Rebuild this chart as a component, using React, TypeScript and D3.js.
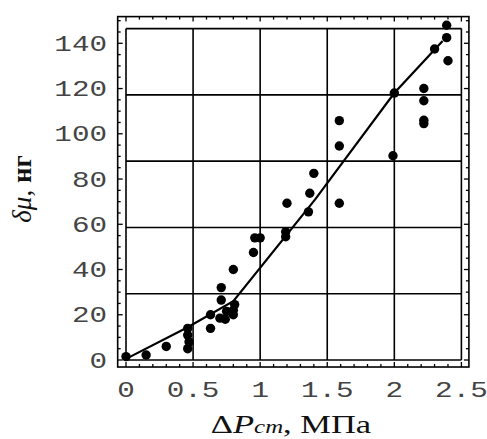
import React from "react";
import * as d3 from "d3";

// measured points: pressure drop (MPa) vs mass change (ng)
const pressure = [0, 0.15, 0.3, 0.46, 0.46, 0.47, 0.46, 0.63, 0.63, 0.7, 0.74, 0.75, 0.8, 0.8, 0.81, 0.71, 0.71, 0.8, 0.95, 0.96, 1.0, 1.19, 1.19, 1.2, 1.36, 1.37, 1.4, 1.59, 1.59, 1.59, 1.99, 2.0, 2.22, 2.22, 2.22, 2.22, 2.3, 2.39, 2.39, 2.4];
const mass = [1.5, 2.2, 6, 14, 11, 8, 5, 14, 20, 18.5, 18, 21.5, 22, 20, 24.5, 26.5, 32, 40, 47.5, 54, 54, 56.7, 54.5, 69.3, 65.5, 73.7, 82.5, 69.3, 94.6, 105.8, 90.3, 118, 120, 114.6, 106, 104.5, 137.5, 148, 142.5, 132.3];

// fitted curve
const fitX = [0, 0.46, 0.8, 1.41, 2.0, 2.36];
const fitY = [0.5, 14.5, 26, 71, 118, 141];

const xTicks = [0, 0.5, 1, 1.5, 2, 2.5];
const xTickLabels = ["0", "0.5", "1", "1.5", "2", "2.5"];
const yTicks = [0, 20, 40, 60, 80, 100, 120, 140];
const yGrid = [0, 29.3, 58.6, 87.9, 117.2, 146.5];
const xFrame = [-0.062, 2.556];
const yFrame = [-3.1, 151.8];

const W = 487, H = 439;

export default function App() {
  const x = d3.scaleLinear().domain([0, 2.5]).range([126, 461.4]);
  const y = d3.scaleLinear().domain([0, 140]).range([360, 43.3]);

  const fx0 = x(xFrame[0]), fx1 = x(xFrame[1]);
  const fy0 = y(yFrame[0]), fy1 = y(yFrame[1]);

  const xMinor = d3.range(0, 2.51, 0.1);
  const yMinor = d3.range(0, 151, 5);

  const line = d3.line<number>().x((d, i) => x(fitX[i])).y((d, i) => y(fitY[i]));
  const pts = pressure.map((p, i) => [p, mass[i]]);

  const tickFont = { fontFamily: "Liberation Mono, monospace", fontSize: 22 };
  const sx = 1.33;

  return (
    <svg width={W} height={H} style={{ position: "absolute", left: 0, top: 0, background: "#fff" }}>
      <rect x={0} y={0} width={W} height={H} fill="#fff" />
      {/* grid */}
      {xTicks.map((t) => (
        <line key={"gx" + t} x1={x(t)} x2={x(t)} y1={y(yGrid[0])} y2={y(yGrid[5])} stroke="#000" strokeWidth={1.6} />
      ))}
      {yGrid.map((t) => (
        <line key={"gy" + t} x1={x(0)} x2={x(2.5)} y1={y(t)} y2={y(t)} stroke="#000" strokeWidth={1.6} />
      ))}
      {/* frame */}
      <rect x={fx0} y={fy1} width={fx1 - fx0} height={fy0 - fy1} fill="none" stroke="#000" strokeWidth={1.6} />
      {xMinor.map((t, i) => {
        const major = i % 5 === 0;
        const l = major ? 5 : 3;
        return (
          <g key={"xt" + i}>
            <line x1={x(t)} x2={x(t)} y1={fy0} y2={fy0 - l} stroke="#000" strokeWidth={1.3} />
            <line x1={x(t)} x2={x(t)} y1={fy1} y2={fy1 + l} stroke="#000" strokeWidth={1.3} />
          </g>
        );
      })}
      {yMinor.map((t, i) => {
        const major = i % 4 === 0;
        const l = major ? 5 : 3;
        return (
          <g key={"yt" + i}>
            <line x1={fx0} x2={fx0 + l} y1={y(t)} y2={y(t)} stroke="#000" strokeWidth={1.3} />
            <line x1={fx1} x2={fx1 - l} y1={y(t)} y2={y(t)} stroke="#000" strokeWidth={1.3} />
          </g>
        );
      })}
      {/* fitted line */}
      <path d={line(fitX) || ""} fill="none" stroke="#000" strokeWidth={2.2} />
      {/* points */}
      {pts.map((d, i) => (
        <circle key={"p" + i} cx={x(d[0])} cy={y(d[1])} r={4.7} fill="#000" />
      ))}
      {/* tick labels */}
      {xTicks.map((t, i) => (
        <text key={"xl" + t} transform={`translate(${x(t)},397) scale(${sx},1)`} textAnchor="middle" {...tickFont} fill="#444">
          {xTickLabels[i]}
        </text>
      ))}
      {yTicks.map((t) => (
        <text key={"yl" + t} transform={`translate(107,${y(t) + 7.5}) scale(${sx},1)`} textAnchor="end" {...tickFont} fill="#444">
          {t}
        </text>
      ))}
      {/* axis titles */}
      <text transform={`translate(291,433) scale(1.38,1)`} textAnchor="middle" fontFamily="Liberation Serif, serif" fontSize={25} fill="#111">
        Δ<tspan fontStyle="italic">P</tspan><tspan fontStyle="italic" fontSize={18}>cm</tspan>, МПа
      </text>
      <text transform={`translate(31,189) rotate(-90)`} textAnchor="middle" fontFamily="Liberation Serif, serif" fontSize={27} fill="#111">
        <tspan fontStyle="italic">δμ</tspan>, <tspan fontWeight="bold">нг</tspan>
      </text>
    </svg>
  );
}
